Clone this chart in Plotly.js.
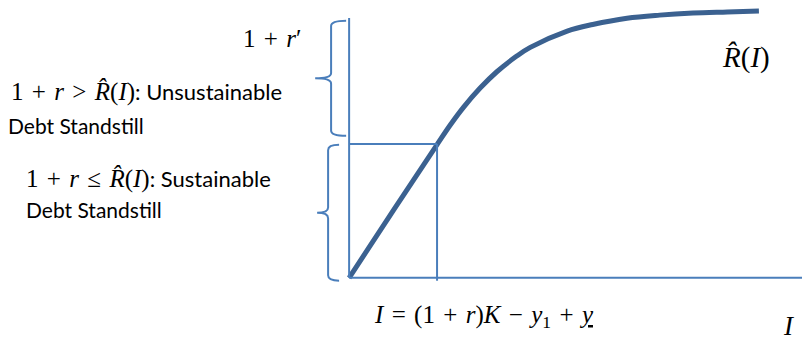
<!DOCTYPE html>
<html>
<head>
<meta charset="utf-8">
<script src="https://cdn.plot.ly/plotly-3.0.1.min.js"></script>
<style>
  body { margin: 0; background: #fff; }
  #chart { width: 802px; height: 338px; }
</style>
</head>
<body>
<div id="chart"></div>
<script>
// R-hat(I) curve (I* = 1, 1+r = 1)
const curveI = [0, 0.52, 1.0, 1.15, 1.30, 1.49, 1.68, 1.91, 2.06, 2.48, 2.77, 3.16, 3.53, 3.91, 4.30, 4.66];
const curveR = [0, 0.52, 0.995, 1.141, 1.273, 1.417, 1.539, 1.658, 1.721, 1.843, 1.892, 1.939, 1.962, 1.977, 1.985, 1.992];

const iStar = 1;      // I = (1+r)K - y1 + y
const rStar = 1;      // 1 + r = R-hat(I*)
const rPrime = 1.94;  // 1 + r'
const xMin = -3.97, xMax = 5.15;
const yMin = -0.45, yMax = 2.075;

// braces: [low, high, body x, tip x, hook x]
const upperBrace = [1.06, 1.92, -0.205, -0.386, -0.034];
const lowerBrace = [-0.022, 0.993, -0.239, -0.364, -0.114];

const thin = '#4a7ebb';
const thick = '#3b6190';

function bracePath(b) {
    const lo = b[0], hi = b[1], xb = b[2], xt = b[3], xh = b[4];
    const mid = (lo + hi) / 2, d = 0.04;
    return 'M' + xh + ',' + hi +
        ' Q' + xb + ',' + hi + ' ' + xb + ',' + (hi - d) +
        ' L' + xb + ',' + (mid + d) +
        ' Q' + xb + ',' + mid + ' ' + xt + ',' + mid +
        ' Q' + xb + ',' + mid + ' ' + xb + ',' + (mid - d) +
        ' L' + xb + ',' + (lo + d) +
        ' Q' + xb + ',' + lo + ' ' + xh + ',' + lo;
}

var curve = {
    type: 'scatter',
    mode: 'lines',
    x: curveI,
    y: curveR,
    line: {color: thick, width: 5, shape: 'spline', smoothing: 1},
    hoverinfo: 'skip'
};

var ln = {color: thin, width: 2};
var shapes = [
    {type: 'line', x0: 0, y0: 0, x1: 0, y1: rPrime, line: ln},
    {type: 'line', x0: 0, y0: 0, x1: xMax, y1: 0, line: ln},
    {type: 'line', x0: iStar, y0: -0.022, x1: iStar, y1: rStar, line: ln},
    {type: 'line', x0: 0, y0: rStar, x1: iStar, y1: rStar, line: ln},
    {type: 'path', path: bracePath(upperBrace), line: ln},
    {type: 'path', path: bracePath(lowerBrace), line: ln}
];

const mathFont = 'Liberation Serif, DejaVu Serif, serif';
const textFont = 'Lato, Open Sans, sans-serif';
const sp = '\u2004';
function sans(s) { return '<span style="font-family:' + textFont + ';font-size:22px">' + s + '</span>'; }

function note(text, x, y, anchor, size, family) {
    return {
        text: text, xref: 'paper', yref: 'paper', x: x, y: y,
        xanchor: anchor, yanchor: 'middle', showarrow: false,
        font: {family: family || mathFont, size: size || 25, color: '#000'}
    };
}

var annotations = [
    note('1' + sp + '+' + sp + '<i>r</i>′', 303 / 802, 1 - 38 / 338, 'right'),
    note('1' + sp + '+' + sp + '<i>r</i>' + sp + '>' + sp + '<i>R̂</i>(<i>I</i>)' + sans(': Unsustainable'), 9 / 802, 1 - 92 / 338, 'left'),
    note('Debt Standstill', 6 / 802, 1 - 125 / 338, 'left', 21, textFont),
    note('1' + sp + '+' + sp + '<i>r</i>' + sp + '≤' + sp + '<i>R̂</i>(<i>I</i>)' + sans(': Sustainable'), 24 / 802, 1 - 179 / 338, 'left'),
    note('Debt Standstill', 24 / 802, 1 - 210 / 338, 'left', 21, textFont),
    note('<i>R̂</i>(<i>I</i>)', 746 / 802, 1 - 58 / 338, 'center', 29),
    note('<i>I</i>' + sp + '=' + sp + '(1' + sp + '+' + sp + '<i>r</i>)<i>K</i>' + sp + '−' + sp + '<i>y</i><sub>1</sub>' + sp + '+' + sp + '<u><i>y</i></u>', 372 / 802, 1 - 316 / 338, 'left'),
    note('<i>I</i>', 797 / 802, 1 - 326 / 338, 'right', 27)
];

var layout = {
    width: 802,
    height: 338,
    margin: {l: 0, r: 0, t: 0, b: 0},
    paper_bgcolor: '#fff',
    plot_bgcolor: '#fff',
    showlegend: false,
    hovermode: false,
    xaxis: {range: [xMin, xMax], visible: false, fixedrange: true},
    yaxis: {range: [yMin, yMax], visible: false, fixedrange: true},
    shapes: shapes,
    annotations: annotations
};

Plotly.newPlot('chart', [curve], layout, {staticPlot: true, displayModeBar: false});
</script>
</body>
</html>
